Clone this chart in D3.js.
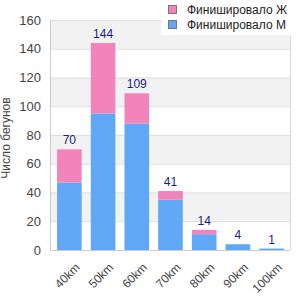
<!DOCTYPE html>
<html><head><meta charset="utf-8">
<script src="https://cdn.jsdelivr.net/npm/d3@7"></script>
<style>body{margin:0;background:#fff}svg{display:block;font-family:"Liberation Sans",Arial,sans-serif}</style>
</head><body><svg id="c" width="300" height="300"></svg>
<script>
const categories = ["40km","50km","60km","70km","80km","90km","100km"];
const totals = [70,144,109,41,14,4,1];
const men = [47,95,88,35,11,4,1];
const women = [23,49,21,6,3,0,0];
const yTicks = [0,20,40,60,80,100,120,140,160];
const seriesNames = ["Финишировало Ж","Финишировало М"];
const colors = {w:"#f383bb", m:"#60a8f5"};
const FONT = "Liberation Sans, Arial, sans-serif";

const svg = d3.select("#c");
const L=50,R=290,T=20,B=250;
const x = d3.scaleBand().domain(categories).range([L+1,R]).paddingInner(0.27).paddingOuter(0.18);
const y = d3.scaleLinear().domain([0,160]).range([B,T]);

for(let i=0;i<yTicks.length-1;i++){
  if(i%2===1){
    svg.append("rect").attr("x",L).attr("width",R-L).attr("y",y(yTicks[i+1])).attr("height",y(yTicks[i])-y(yTicks[i+1])).attr("fill","#f2f2f2");
  }
}
svg.selectAll(".g").data(yTicks.slice(1)).enter().append("line")
  .attr("x1",L).attr("x2",R).attr("y1",d=>y(d)+0.5).attr("y2",d=>y(d)+0.5).attr("stroke","#dedede");
svg.append("line").attr("x1",R+0.5).attr("x2",R+0.5).attr("y1",T).attr("y2",B).attr("stroke","#dadada");

const data = categories.map((c,i)=>({c,m:men[i],w:women[i],t:totals[i]}));
svg.selectAll(".m").data(data).enter().append("rect")
  .attr("x",d=>x(d.c)).attr("width",x.bandwidth()).attr("y",d=>y(d.m)).attr("height",d=>B-y(d.m)).attr("fill",colors.m);
svg.selectAll(".w").data(data).enter().append("rect")
  .attr("x",d=>x(d.c)).attr("width",x.bandwidth()).attr("y",d=>y(d.m+d.w)).attr("height",d=>y(d.m)-y(d.m+d.w)).attr("fill",colors.w);
svg.selectAll(".v").data(data).enter().append("text")
  .attr("x",d=>x(d.c)+x.bandwidth()/2).attr("y",d=>y(d.t)-5).attr("text-anchor","middle")
  .attr("font-size",12).attr("fill","#1a1a8a").text(d=>d.t);

const ya = svg.append("g").attr("transform",`translate(${L},0)`).call(d3.axisLeft(y).tickValues(yTicks).tickSize(0).tickPadding(9));
ya.select(".domain").attr("stroke","#ccc").attr("d",`M0.5,${T}V${B}`);
ya.selectAll("text").attr("font-size",13).attr("fill","#444").attr("font-family",FONT);
const xa = svg.append("g").attr("transform",`translate(0,${B})`).call(d3.axisBottom(x).tickSize(0));
xa.select(".domain").attr("stroke","#ccc").attr("d",`M${L},0.5H${R}`);
xa.selectAll("text").attr("font-size",12).attr("fill","#444").attr("font-family",FONT)
  .attr("text-anchor","end").attr("dy","0.35em").attr("transform","translate(6,13) rotate(-45)");

svg.append("text").attr("transform","translate(10,138) rotate(-90)").attr("text-anchor","middle")
  .attr("font-size",12).attr("fill","#444").text("Число бегунов");

svg.append("rect").attr("x",161).attr("y",0).attr("width",139).attr("height",35).attr("fill","#fff");
const lg = svg.selectAll(".lg").data(seriesNames).enter().append("g").attr("transform",(d,i)=>`translate(168,${5+i*15})`);
lg.append("rect").attr("x",0.5).attr("y",0.5).attr("width",8).attr("height",8).attr("fill",(d,i)=>i===0?colors.w:colors.m).attr("stroke","#777");
lg.append("text").attr("x",19).attr("y",4.5).attr("dy","0.35em").attr("font-size",12).attr("fill","#222").text(d=>d);
</script></body></html>
